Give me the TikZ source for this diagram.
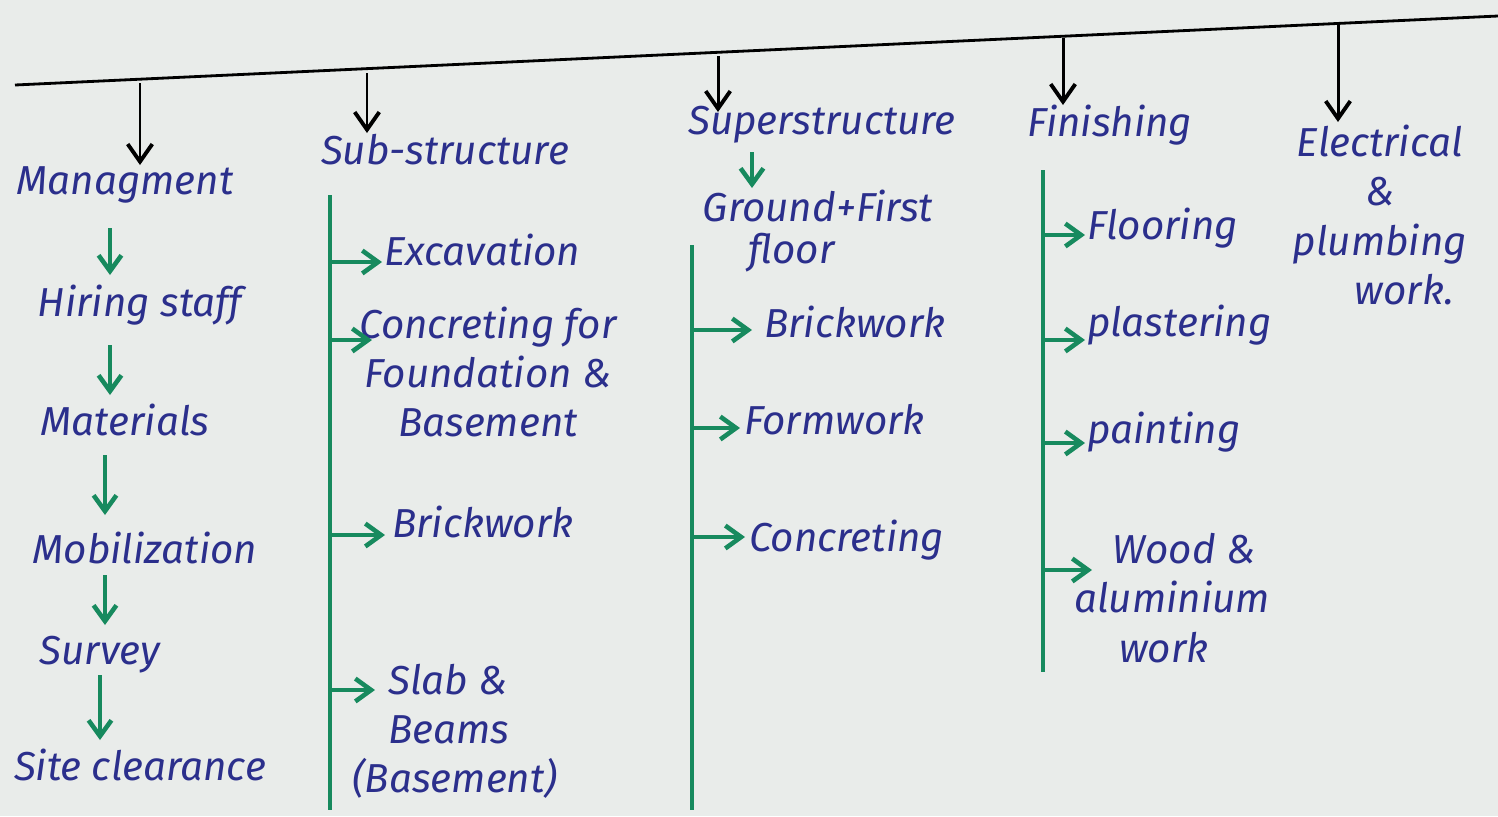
\documentclass[tikz,border=0pt]{standalone}
\usepackage{fontspec}
\setmainfont{Fira Sans}
\usetikzlibrary{arrows.meta}
\definecolor{paper}{HTML}{E9ECEA}
\definecolor{ink}{HTML}{2B2F8C}
\definecolor{pen}{HTML}{178A5E}
\begin{document}
\begin{tikzpicture}[x=0.02cm,y=-0.02cm,
  lbl/.style={text=ink,font=\fontsize{23}{28}\selectfont\itshape,inner sep=1pt,align=center},
  blk/.style={draw=black,line width=1.7pt,-{Straight Barb[length=10pt,width=14pt,line width=2.2pt]}},
  grn/.style={draw=pen,line width=2.4pt,-{Straight Barb[length=9pt,width=13pt,line width=2.6pt]}},
  gline/.style={draw=pen,line width=2.4pt}]
\fill[paper] (0,0) rectangle (1498,816);
\useasboundingbox (0,0) rectangle (1498,816);
% top bar
\coordinate (L) at (15,85);
\coordinate (R) at (1498,16);
\draw[black,line width=1.6pt] (L) -- (R);
\coordinate (t1) at (140,83);
\coordinate (t2) at (367,73);
\coordinate (t3) at (718,56);
\coordinate (t4) at (1063,38);
\coordinate (t5) at (1338,25);
% column 1
\node[lbl] (man) at (125,185) {Managment};
\node[lbl] (hir) at (140,305) {Hiring staff};
\node[lbl] (mat) at (125,420) {Materials};
\node[lbl] (mob) at (145,548) {Mobilization};
\node[lbl] (sur) at (100,655) {Survey};
\node[lbl] (sit) at (140,765) {Site clearance};
\draw[blk] (t1) -- (140,165);
\draw[grn] (110,228) -- (110,275);
\draw[grn] (110,345) -- (110,395);
\draw[grn] (105,455) -- (105,515);
\draw[grn] (105,575) -- (105,625);
\draw[grn] (100,675) -- (100,740);
% column 2
\node[lbl] (sub) at (445,150) {Sub-structure};
\draw[blk] (t2) -- (367,133);
\coordinate (s0) at (330,195);
\coordinate (s9) at (330,810);
\draw[gline] (s0) -- (s9);
\node[lbl,anchor=west] (exc) at (382,250) {Excavation};
\node[lbl] (con) at (488,372) {Concreting for\\Foundation \&\\Basement};
\node[lbl,anchor=west] (bri) at (390,522) {Brickwork};
\node[lbl,anchor=west,align=left] (sla) at (350,731) {\hspace*{0.9em}Slab \&\\\hspace*{0.9em}Beams\\(Basement)};
\draw[grn] (330,262) -- (382,262);
\draw[grn] (330,340) -- (372,340);
\draw[grn] (330,535) -- (385,535);
\draw[grn] (330,690) -- (375,690);
% column 3
\node[lbl] (sup) at (822,125) {Superstructure};
\draw[blk] (t3) -- (718,112);
\node[lbl,font=\fontsize{23}{24}\selectfont\itshape] (gro) at (818,231) {Ground+First\\floor\hspace*{1.3em}};
\draw[grn] (752,152) -- (752,188);
\coordinate (p0) at (692,245);
\coordinate (p9) at (692,810);
\draw[gline] (p0) -- (p9);
\node[lbl,anchor=west] (bk2) at (762,322) {Brickwork};
\node[lbl,anchor=west] (frm) at (742,420) {Formwork};
\node[lbl,anchor=west] (cnc) at (747,540) {Concreting};
\draw[grn] (692,330) -- (752,330);
\draw[grn] (692,428) -- (740,428);
\draw[grn] (692,537) -- (745,537);
% column 4
\node[lbl] (fin) at (1110,125) {Finishing};
\draw[blk] (t4) -- (1063,105);
\coordinate (f0) at (1043,170);
\coordinate (f9) at (1043,672);
\draw[gline] (f0) -- (f9);
\node[lbl,anchor=west] (flo) at (1085,228) {Flooring};
\node[lbl,anchor=west] (pla) at (1085,325) {plastering};
\node[lbl,anchor=west] (pai) at (1085,432) {painting};
\node[lbl] (woo) at (1172,598) {\hspace*{0.6em}Wood \&\\aluminium\\work\hspace*{0.4em}};
\draw[grn] (1043,235) -- (1085,235);
\draw[grn] (1043,340) -- (1085,340);
\draw[grn] (1043,443) -- (1085,443);
\draw[grn] (1043,570) -- (1092,570);
% column 5
\node[lbl] (ele) at (1380,215) {Electrical\\\&\\plumbing\\\hspace*{1.2em}work.};
\draw[blk] (t5) -- (1338,122);
\end{tikzpicture}
\end{document}
